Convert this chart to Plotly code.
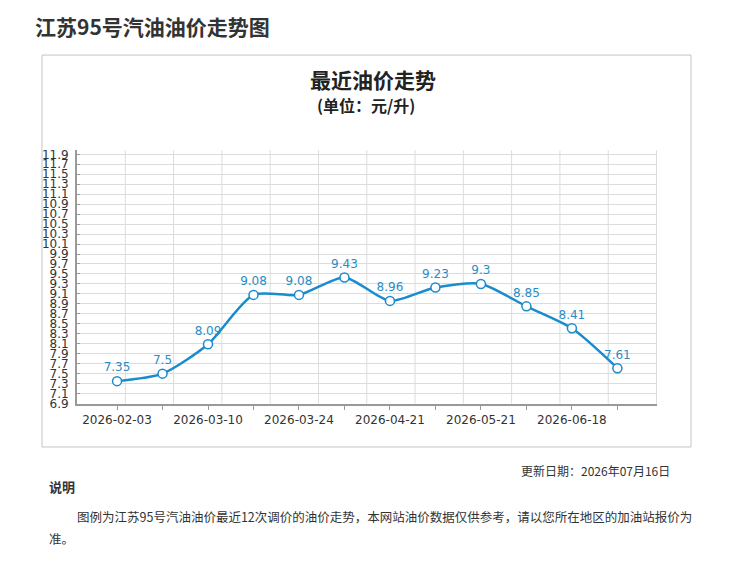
import plotly.graph_objects as go

# ---- data ----
dates = ["2026-02-03", "2026-02-17", "2026-03-10", "2026-03-17", "2026-03-24", "2026-04-07",
         "2026-04-21", "2026-05-07", "2026-05-21", "2026-06-04", "2026-06-18", "2026-07-02"]
prices = [7.35, 7.5, 8.09, 9.08, 9.08, 9.43, 8.96, 9.23, 9.3, 8.85, 8.41, 7.61]
shown_dates = ["2026-02-03", "2026-03-10", "2026-03-24", "2026-04-21", "2026-05-21", "2026-06-18"]
tick_text = [d if d in shown_dates else "" for d in dates]

page_title = "江苏95号汽油油价走势图"
chart_title = "最近油价走势"
chart_subtitle = "(单位：元/升)"
update_text = "更新日期：2026年07月16日"
note_title = "说明"
note_line1 = "图例为江苏95号汽油油价最近12次调价的油价走势，本网站油价数据仅供参考，请以您所在地区的加油站报价为"
note_line2 = "准。"

W, H = 735, 563
def px(x): return x / W
def py(y): return 1 - y / H

NUM_FONT = "DejaVu Sans"
CJK_FONT = "Noto Sans CJK SC, Noto Sans, sans-serif"
BLUE = "#1a8bcc"

fig = go.Figure()
fig.add_trace(go.Scatter(
    x=dates, y=prices,
    mode="lines+markers+text",
    text=[f"{p:g}" for p in prices],
    textposition="top center",
    textfont=dict(family=NUM_FONT, size=12, color="#2b8cc4"),
    line=dict(color=BLUE, width=2.5, shape="spline", smoothing=0.7),
    marker=dict(size=9, color="white", line=dict(color=BLUE, width=1.5)),
    cliponaxis=False,
    showlegend=False,
    hoverinfo="x+y",
))

shapes = []
# chart container box
shapes.append(dict(type="rect", xref="paper", yref="paper",
                   x0=px(42), x1=px(691), y0=py(452), y1=py(53),
                   line=dict(color="#c4c4c4", width=1), layer="below"))
# vertical grid (12 equal divisions of the plot area)
for k in range(1, 13):
    shapes.append(dict(type="line", xref="x domain", yref="y domain",
                       x0=k / 12, x1=k / 12, y0=0, y1=1,
                       line=dict(color="#dcdcdc", width=1), layer="below"))

annotations = [
    dict(x=px(33), y=py(23), xref="paper", yref="paper", xanchor="left", yanchor="middle",
         text=f"<b>{page_title}</b>", showarrow=False,
         font=dict(family=CJK_FONT, size=21, color="#333333")),
    dict(x=px(373), y=py(77), xref="paper", yref="paper", xanchor="center", yanchor="middle",
         text=f"<b>{chart_title}</b>", showarrow=False,
         font=dict(family=CJK_FONT, size=21, color="#222222")),
    dict(x=px(366), y=py(104), xref="paper", yref="paper", xanchor="center", yanchor="middle",
         text=f"<b>{chart_subtitle}</b>", showarrow=False,
         font=dict(family=CJK_FONT, size=16, color="#222222")),
    dict(x=px(672), y=py(476), xref="paper", yref="paper", xanchor="right", yanchor="middle",
         text=update_text, showarrow=False,
         font=dict(family=CJK_FONT, size=12, color="#333333")),
    dict(x=px(47), y=py(492), xref="paper", yref="paper", xanchor="left", yanchor="middle",
         text=f"<b>{note_title}</b>", showarrow=False,
         font=dict(family=CJK_FONT, size=13, color="#333333")),
    dict(x=px(75), y=py(523), xref="paper", yref="paper", xanchor="left", yanchor="middle",
         text=note_line1, showarrow=False,
         font=dict(family=CJK_FONT, size=12.5, color="#333333")),
    dict(x=px(47), y=py(545), xref="paper", yref="paper", xanchor="left", yanchor="middle",
         text=note_line2, showarrow=False,
         font=dict(family=CJK_FONT, size=12.5, color="#333333")),
]

fig.update_layout(
    width=W, height=H,
    margin=dict(l=0, r=0, t=0, b=0),
    paper_bgcolor="white", plot_bgcolor="white",
    shapes=shapes, annotations=annotations,
    xaxis=dict(
        type="category", domain=[px(77), px(656.5)], range=[-0.88, 11.86],
        tickmode="array", tickvals=dates, ticktext=tick_text,
        ticks="outside", ticklen=4, tickcolor="#999999",
        showline=True, linecolor="#999999", linewidth=2,
        showgrid=False, zeroline=False,
        tickfont=dict(family=NUM_FONT, size=12, color="#333333"),
    ),
    yaxis=dict(
        domain=[py(407.8), py(150)], range=[6.9, 11.98],
        tick0=6.9, dtick=0.2, tickformat=".1f",
        showgrid=True, gridcolor="#dcdcdc", gridwidth=1,
        ticks="inside", ticklen=3, tickcolor="#999999",
        showline=True, linecolor="#999999", linewidth=2,
        zeroline=False, ticklabelstandoff=4,
        tickfont=dict(family=NUM_FONT, size=12, color="#333333"),
    ),
)

fig.write_html("out.html")
